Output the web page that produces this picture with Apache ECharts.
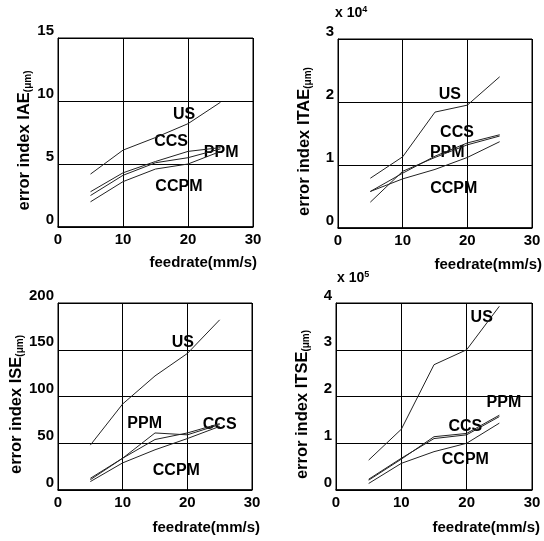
<!DOCTYPE html>
<html>
<head>
<meta charset="utf-8">
<script src="https://cdn.jsdelivr.net/npm/echarts@6/dist/echarts.min.js"></script>
<style>
  html, body { margin: 0; padding: 0; background: #fff; }
  #chart { width: 544px; height: 541px; }
</style>
</head>
<body>
<div id="chart"></div>
<script>
// feedrate (mm/s)
var feedrate = [5, 10, 15, 20, 25];

// IAE (um)
var iaeUS   = [4.2, 6.1, 7.1, 8.2, 9.9];
var iaeCCS  = [2.8, 4.3, 5.2, 6.0, 6.3];
var iaePPM  = [2.5, 4.1, 5.1, 5.5, 6.2];
var iaeCCPM = [2.0, 3.6, 4.6, 5.0, 6.0];

// ITAE (x 10^4)
var itaeUS   = [0.79, 1.13, 1.84, 1.95, 2.40];
var itaeCCS  = [0.58, 0.87, 1.14, 1.35, 1.48];
var itaePPM  = [0.41, 0.90, 1.12, 1.32, 1.46];
var itaeCCPM = [0.58, 0.78, 0.93, 1.12, 1.37];

// ISE (um)
var iseUS   = [48, 92, 122, 146, 182];
var isePPM  = [12.5, 34, 61, 59, 70];
var iseCCS  = [11, 34, 54, 61, 71];
var iseCCPM = [9, 29, 43, 55, 68];

// ITSE (x 10^5)
var itseUS   = [0.64, 1.30, 2.68, 3.00, 3.93];
var itseCCS  = [0.21, 0.66, 1.14, 1.21, 1.60];
var itsePPM  = [0.23, 0.68, 1.10, 1.18, 1.57];
var itseCCPM = [0.14, 0.57, 0.82, 1.00, 1.43];

// curve name labels: [feedrate, value, text]
var iaeTags  = [[19.4, 8.9, 'US'], [17.4, 6.75, 'CCS'], [25.1, 5.9, 'PPM'], [18.6, 3.2, 'CCPM']];
var itaeTags = [[17.3, 2.11, 'US'], [18.4, 1.52, 'CCS'], [16.9, 1.19, 'PPM'], [17.9, 0.63, 'CCPM']];
var iseTags  = [[19.3, 158, 'US'], [25.0, 69.5, 'CCS'], [13.4, 70.6, 'PPM'], [18.3, 21, 'CCPM']];
var itseTags = [[22.3, 3.68, 'US'], [25.7, 1.86, 'PPM'], [19.8, 1.35, 'CCS'], [19.8, 0.64, 'CCPM']];

var panels = [
  { grid: { left: 58, top: 38, width: 195, height: 189 }, yMax: 15, yStep: 5, yName: 'IAE',
    lines: [iaeUS, iaeCCS, iaePPM, iaeCCPM], tags: iaeTags },
  { grid: { left: 338, top: 39, width: 194, height: 189 }, yMax: 3, yStep: 1, yName: 'ITAE',
    lines: [itaeUS, itaeCCS, itaePPM, itaeCCPM], tags: itaeTags },
  { grid: { left: 58, top: 303, width: 194, height: 187 }, yMax: 200, yStep: 50, yName: 'ISE',
    lines: [iseUS, isePPM, iseCCS, iseCCPM], tags: iseTags },
  { grid: { left: 336, top: 303, width: 196, height: 187 }, yMax: 4, yStep: 1, yName: 'ITSE',
    lines: [itseUS, itseCCS, itsePPM, itseCCPM], tags: itseTags }
];

var font = 'Liberation Sans, Arial, sans-serif';
var grids = [], xAxes = [], yAxes = [], series = [];

panels.forEach(function (p, i) {
  grids.push(Object.assign({ show: true, borderColor: '#000', borderWidth: 1 }, p.grid));
  xAxes.push({
    gridIndex: i, type: 'value', min: 0, max: 30, interval: 10,
    axisLine: { show: true, lineStyle: { color: '#000', width: 1.5 } },
    axisTick: { show: false },
    splitLine: { show: true, lineStyle: { color: '#000', width: 1 } },
    axisLabel: { color: '#000', fontSize: 15, fontWeight: 'bold', fontFamily: font, margin: 5 }
  });
  yAxes.push({
    gridIndex: i, type: 'value', min: 0, max: p.yMax, interval: p.yStep,
    axisLine: { show: true, lineStyle: { color: '#000', width: 1 } },
    axisTick: { show: false },
    splitLine: { show: true, lineStyle: { color: '#000', width: 1 } },
    axisLabel: { color: '#000', fontSize: 15, fontWeight: 'bold', fontFamily: font,
                 margin: 4, verticalAlign: 'bottom' },
    name: '{a|error index ' + p.yName + '}{b|(\u03bcm)}',
    nameLocation: 'middle', nameGap: 25,
    nameTextStyle: {
      rich: {
        a: { fontSize: 16.5, fontWeight: 'bold', fontFamily: font, color: '#000' },
        b: { fontSize: 10, fontWeight: 'bold', fontFamily: font, color: '#000', padding: [7, 16, 0, 0] }
      }
    }
  });
  p.lines.forEach(function (vals) {
    series.push({
      type: 'line', xAxisIndex: i, yAxisIndex: i, showSymbol: false, silent: true,
      lineStyle: { color: '#222', width: 1 },
      data: feedrate.map(function (f, k) { return [f, vals[k]]; })
    });
  });
  series.push({
    type: 'scatter', xAxisIndex: i, yAxisIndex: i, symbolSize: 0, silent: true,
    itemStyle: { opacity: 1 },
    data: p.tags,
    label: { show: true, position: 'inside', formatter: function (d) { return d.data[2]; },
             color: '#000', fontSize: 16, fontWeight: 'bold', fontFamily: font }
  });
});

var nameStyle = { color: '#000', fontSize: 15, fontWeight: 'bold', fontFamily: font };
var powStyle = {
  rich: {
    a: { color: '#000', fontSize: 14, fontWeight: 'bold', fontFamily: font },
    s: { color: '#000', fontSize: 9, fontWeight: 'bold', fontFamily: font, padding: [0, 0, 8, 0] }
  }
};
var titles = [
  { text: 'feedrate(mm/s)', right: 287, top: 255, padding: 0, textStyle: nameStyle },
  { text: 'feedrate(mm/s)', right: 2, top: 257, padding: 0, textStyle: nameStyle },
  { text: 'feedrate(mm/s)', right: 284, top: 520, padding: 0, textStyle: nameStyle },
  { text: 'feedrate(mm/s)', right: 4, top: 520, padding: 0, textStyle: nameStyle },
  { text: '{a|x 10}{s|4}', left: 335, top: 5, padding: 0, textStyle: powStyle },
  { text: '{a|x 10}{s|5}', left: 337, top: 270, padding: 0, textStyle: powStyle }
];

var chart = echarts.init(document.getElementById('chart'));
chart.setOption({
  animation: false,
  title: titles,
  grid: grids,
  xAxis: xAxes,
  yAxis: yAxes,
  series: series
});
</script>
</body>
</html>
